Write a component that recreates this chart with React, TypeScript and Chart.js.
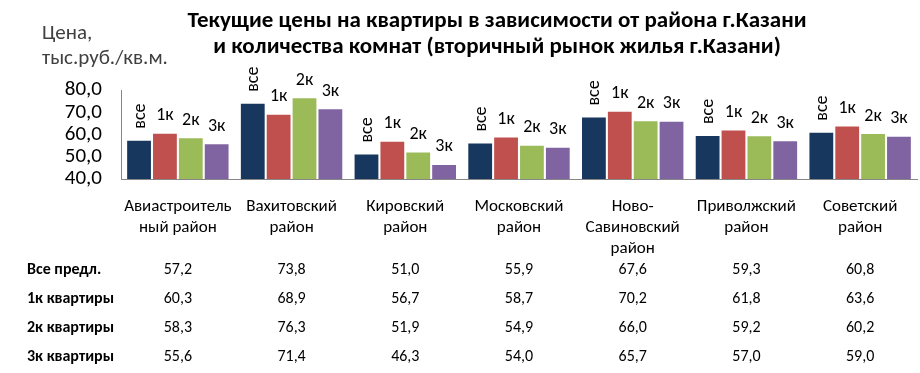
import React, { useEffect, useRef } from "react";
import { Chart, registerables } from "chart.js";

Chart.register(...registerables);

const categories: string[][] = [
  ["Авиастроитель", "ный район"],
  ["Вахитовский", "район"],
  ["Кировский", "район"],
  ["Московский", "район"],
  ["Ново-", "Савиновский", "район"],
  ["Приволжский", "район"],
  ["Советский", "район"],
];
const seriesNames = ["Все предл.", "1к квартиры", "2к квартиры", "3к квартиры"];
const barLabels = ["все", "1к", "2к", "3к"];
const allOffers = [57.2, 73.8, 51.0, 55.9, 67.6, 59.3, 60.8];
const oneRoom = [60.3, 68.9, 56.7, 58.7, 70.2, 61.8, 63.6];
const twoRoom = [58.3, 76.3, 51.9, 54.9, 66.0, 59.2, 60.2];
const threeRoom = [55.6, 71.4, 46.3, 54.0, 65.7, 57.0, 59.0];
const seriesColors = ["#17375E", "#C0504D", "#9BBB59", "#8064A2"];
const titleLines = [
  "Текущие цены на квартиры в зависимости от района г.Казани",
  "и количества комнат (вторичный рынок жилья г.Казани)",
];
const yAxisLabel = ["Цена,", "тыс.руб./кв.м."];
const yMin = 40;
const yMax = 80;
const yStep = 10;

const FONT = "Calibri, Carlito, Lato, 'Open Sans', sans-serif";
const fmt = (v: number) => v.toFixed(1).replace(".", ",");

const overlayPlugin = {
  id: "overlay",
  afterDatasetsDraw(chart: any) {
    const ctx = chart.ctx;
    ctx.save();
    ctx.fillStyle = "#000";
    chart.data.datasets.forEach((_: any, di: number) => {
      const meta = chart.getDatasetMeta(di);
      meta.data.forEach((el: any) => {
        if (di === 0) {
          ctx.save();
          ctx.translate(el.x + 1, el.y - 12);
          ctx.rotate(-Math.PI / 2);
          ctx.font = `18px ${FONT}`;
          ctx.textAlign = "left";
          ctx.textBaseline = "middle";
          ctx.fillText(barLabels[di], 0, 0);
          ctx.restore();
        } else {
          ctx.font = `18px ${FONT}`;
          ctx.textAlign = "center";
          ctx.textBaseline = "middle";
          ctx.fillText(barLabels[di], el.x, el.y - 18);
        }
      });
    });
    ctx.restore();
  },
  afterDraw(chart: any) {
    const ctx = chart.ctx;
    const xs = chart.scales.x;
    ctx.save();
    // title
    ctx.fillStyle = "#000";
    ctx.font = `bold 23px ${FONT}`;
    ctx.textAlign = "center";
    ctx.textBaseline = "middle";
    ctx.fillText(titleLines[0], 497, 21);
    ctx.fillText(titleLines[1], 497, 47);
    // y-axis label
    ctx.fillStyle = "#404040";
    ctx.font = `21px ${FONT}`;
    ctx.textAlign = "left";
    ctx.fillText(yAxisLabel[0], 42, 34);
    ctx.fillText(yAxisLabel[1], 42, 59);
    // data table
    const rows = [allOffers, oneRoom, twoRoom, threeRoom];
    rows.forEach((vals, ri) => {
      const y = 270 + ri * 29;
      ctx.fillStyle = "#000";
      ctx.font = `bold 16px ${FONT}`;
      ctx.textAlign = "left";
      ctx.fillText(seriesNames[ri], 27, y);
      ctx.font = `16px ${FONT}`;
      ctx.textAlign = "center";
      vals.forEach((v, ci) => {
        ctx.fillText(fmt(v), xs.getPixelForValue(ci), y);
      });
    });
    ctx.restore();
  },
};

export default function App() {
  const ref = useRef<HTMLCanvasElement>(null);
  useEffect(() => {
    document.body.style.margin = "0";
    const chart = new Chart(ref.current!, {
      type: "bar",
      data: {
        labels: categories,
        datasets: [allOffers, oneRoom, twoRoom, threeRoom].map((d, i) => ({
          label: seriesNames[i],
          data: d,
          backgroundColor: seriesColors[i],
          borderWidth: 0,
          categoryPercentage: 0.91,
          barPercentage: 0.92,
        })),
      },
      options: {
        animation: false,
        responsive: false,
        layout: { padding: { top: 90, right: 3, left: 0, bottom: 0 } },
        plugins: {
          legend: { display: false },
          title: { display: false },
          tooltip: { enabled: false },
        },
        scales: {
          x: {
            grid: { display: false, drawTicks: false },
            border: { display: true, color: "#878787", width: 1 },
            ticks: {
              font: { family: FONT, size: 17, lineHeight: "21px" as any },
              color: "#000",
              padding: 17,
              maxRotation: 0,
              autoSkip: false,
            },
            crossAlign: "center" as any,
            afterFit: (s: any) => {
              s.height = 194;
            },
          } as any,
          y: {
            min: yMin,
            max: yMax,
            grid: { display: false, drawTicks: false },
            border: { display: true, color: "#878787", width: 1 },
            ticks: {
              stepSize: yStep,
              autoSkip: false,
              font: { family: FONT, size: 21 },
              color: "#000",
              padding: 19,
              callback: (v: any) => fmt(Number(v)),
            },
            afterFit: (s: any) => {
              s.width = 121;
            },
          } as any,
        },
      },
      plugins: [overlayPlugin],
    });
    return () => chart.destroy();
  }, []);
  return (
    <div style={{ width: 920, height: 373 }}>
      <canvas ref={ref} width={920} height={373} />
    </div>
  );
}
